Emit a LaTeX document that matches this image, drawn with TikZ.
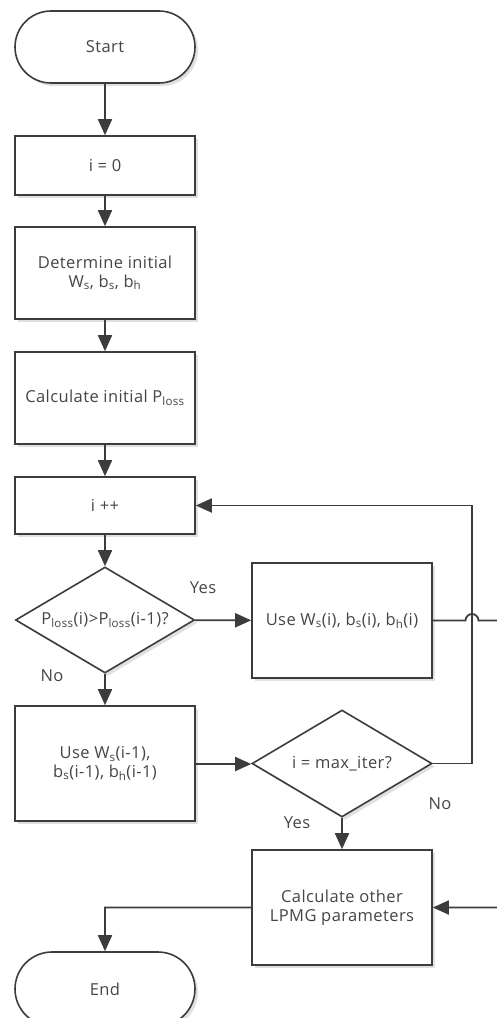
\documentclass[tikz,border=0pt]{standalone}
\usepackage{fontspec}
\setmainfont{Open Sans}[LetterSpace=2.5]
\usetikzlibrary{shapes.geometric,shapes.misc,arrows.meta,shadows}
\definecolor{ln}{HTML}{3C3C3C}
\definecolor{tx}{HTML}{454545}
\begin{document}
\begin{tikzpicture}[x=1pt,y=-1pt,
  font=\fontsize{16.5}{20.5}\selectfont, text=tx,
  shad/.style={drop shadow={shadow xshift=3pt,shadow yshift=-3pt,fill=black,opacity=0.12}},
  procbox/.style={draw=ln,line width=1.6pt,fill=white,shad,minimum width=180pt,inner sep=0pt,align=center},
  term/.style={draw=ln,line width=1.6pt,fill=white,shad,rounded rectangle,minimum width=180pt,inner sep=0pt},
  dec/.style={draw=ln,line width=1.6pt,fill=white,shad,diamond,minimum width=180pt,inner sep=0pt},
  conn/.style={draw=ln,line width=1.8pt,-{Triangle[length=16pt,width=14pt]}},
  lbl/.style={inner sep=0pt}]
\useasboundingbox (0,0) rectangle (497,1018);
\clip (0,0) rectangle (497,1018);
% nodes
\node[term,minimum height=72pt] (start) at (105,47) {Start};
\node[procbox,minimum height=59pt] (init) at (105,165.5) {i = 0};
\node[procbox,minimum height=92pt] (det) at (105,273) {Determine initial\\[-2pt]W\textsubscript{s}, b\textsubscript{s}, b\textsubscript{h}};
\node[procbox,minimum height=92pt] (calc) at (105,398) {Calculate initial P\textsubscript{loss}};
\node[procbox,minimum height=57pt] (inc) at (105,505.5) {i ++};
\node[dec,minimum height=106pt,minimum width=179pt] (d1) at (105,620) {};
\node[lbl] at (d1) {P\textsubscript{loss}(i)>P\textsubscript{loss}(i-1)?};
\node[procbox,minimum height=115pt] (usei) at (342,620.5) {Use W\textsubscript{s}(i), b\textsubscript{s}(i), b\textsubscript{h}(i)};
\node[procbox,minimum height=115pt] (useprev) at (105,763.5) {Use W\textsubscript{s}(i-1),\\[-2pt]b\textsubscript{s}(i-1), b\textsubscript{h}(i-1)};
\node[dec,minimum height=107pt] (d2) at (342,763.5) {};
\node[lbl] at (d2) {i = max\_iter?};
\node[procbox,minimum height=115pt] (other) at (342,907.5) {Calculate other\\[-2pt]LPMG parameters};
\node[term,minimum height=74pt] (end) at (105,989) {End};
% labels
\node[lbl] at (203,588) {Yes};
\node[lbl] at (52,676) {No};
\node[lbl] at (297,823) {Yes};
\node[lbl] at (440,804) {No};
% connectors
\draw[conn] (start) -- (init);
\draw[conn] (init) -- (det);
\draw[conn] (det) -- (calc);
\draw[conn] (calc) -- (inc);
\draw[conn] (inc) -- (d1);
\draw[conn] (d1) -- (usei);
\draw[conn] (d1) -- (useprev);
\draw[conn] (useprev.east |- 0,764) -- (d2.west |- 0,764);
\draw[conn] (d2) -- (other);
\coordinate (loopA) at (472,763.5);
\coordinate (loopB) at (472,505.5);
\draw[conn] (d2.east) -- (loopA) -- (loopB) -- (inc.east);
\coordinate (jmpA) at (465.5,620.5);
\coordinate (edgeA) at (510,620.5);
\coordinate (edgeB) at (510,907.5);
\draw[conn] (usei.east) -- (jmpA) arc[start angle=180,end angle=0,radius=6.5pt] -- (edgeA) -- (edgeB) -- (other.east);
\coordinate (bendE) at (105,907.5);
\draw[conn] (other.west) -- (bendE) -- (end);
\end{tikzpicture}
\end{document}
